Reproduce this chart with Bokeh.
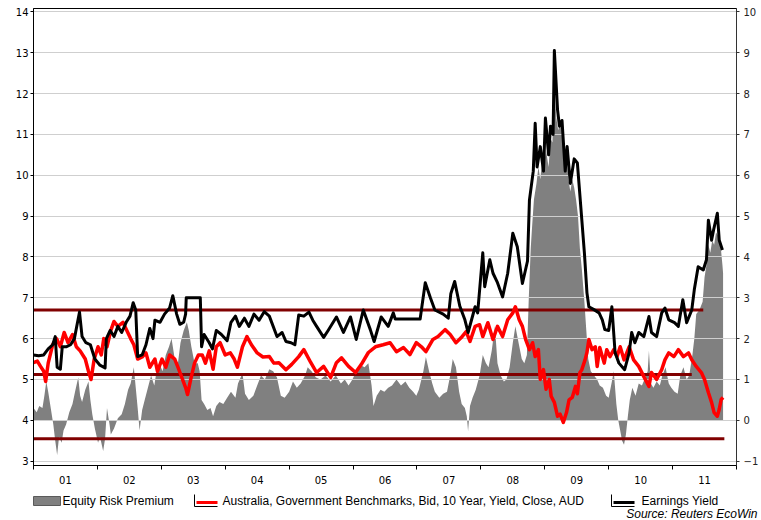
from bokeh.plotting import figure
from bokeh.models import Range1d, LinearAxis, FixedTicker
from bokeh.embed import file_html
from bokeh.resources import INLINE
from bokeh.core.properties import value

# ---- data (decimal year, value) ----
earnings_yield = [
    (2001.00, 5.60), (2001.08, 5.58), (2001.16, 5.60), (2001.23, 5.75), (2001.30, 5.85),
    (2001.34, 6.05), (2001.37, 5.30), (2001.42, 5.25), (2001.45, 5.80), (2001.51, 5.80),
    (2001.58, 5.85), (2001.64, 6.00), (2001.72, 6.65), (2001.76, 6.05), (2001.82, 5.90),
    (2001.89, 5.85), (2001.96, 5.50), (2002.04, 5.35), (2002.12, 5.28), (2002.14, 6.00),
    (2002.20, 6.20), (2002.26, 6.05), (2002.32, 6.30), (2002.38, 6.15), (2002.45, 6.40),
    (2002.51, 6.55), (2002.56, 6.88), (2002.60, 6.70), (2002.63, 5.56), (2002.70, 5.60),
    (2002.76, 5.85), (2002.82, 6.25), (2002.87, 6.00), (2002.90, 6.45), (2002.98, 6.40),
    (2003.05, 6.60), (2003.13, 6.75), (2003.18, 7.05), (2003.24, 6.60), (2003.29, 6.35),
    (2003.35, 6.40), (2003.38, 6.60), (2003.39, 7.00), (2003.61, 7.00), (2003.63, 5.80),
    (2003.67, 6.10), (2003.75, 5.90), (2003.80, 5.75), (2003.86, 6.20), (2003.94, 6.10),
    (2004.03, 5.95), (2004.09, 6.40), (2004.16, 6.55), (2004.22, 6.30), (2004.30, 6.50),
    (2004.37, 6.30), (2004.45, 6.60), (2004.53, 6.45), (2004.61, 6.66), (2004.69, 6.55),
    (2004.81, 6.05), (2004.89, 6.15), (2004.95, 5.93), (2005.03, 5.90), (2005.09, 5.85),
    (2005.15, 6.58), (2005.23, 6.55), (2005.31, 6.65), (2005.37, 6.45), (2005.43, 6.30),
    (2005.54, 6.03), (2005.61, 6.20), (2005.67, 6.35), (2005.74, 6.53), (2005.85, 6.15),
    (2005.96, 6.53), (2006.05, 5.98), (2006.16, 6.70), (2006.27, 6.22), (2006.33, 5.93),
    (2006.44, 6.53), (2006.55, 6.30), (2006.63, 6.63), (2006.66, 6.48), (2007.05, 6.48),
    (2007.13, 7.37), (2007.21, 7.00), (2007.28, 6.70), (2007.41, 6.60), (2007.49, 6.50),
    (2007.53, 7.10), (2007.59, 7.40), (2007.67, 6.80), (2007.75, 6.46), (2007.80, 6.15),
    (2007.91, 6.78), (2007.95, 6.63), (2008.03, 8.10), (2008.06, 7.27), (2008.14, 7.93),
    (2008.19, 7.60), (2008.26, 7.37), (2008.34, 7.02), (2008.42, 7.60), (2008.50, 8.58),
    (2008.57, 8.25), (2008.65, 7.35), (2008.73, 7.90), (2008.76, 9.39), (2008.82, 10.10),
    (2008.85, 11.27), (2008.88, 10.20), (2008.93, 10.70), (2008.98, 10.10), (2009.01, 11.40),
    (2009.06, 10.50), (2009.09, 11.20), (2009.13, 11.00), (2009.15, 13.05), (2009.20, 11.60),
    (2009.23, 11.20), (2009.27, 11.34), (2009.32, 10.10), (2009.35, 10.70), (2009.40, 9.80),
    (2009.46, 10.40), (2009.51, 10.30), (2009.58, 8.90), (2009.62, 8.10), (2009.66, 7.12),
    (2009.69, 6.78), (2009.77, 6.71), (2009.85, 6.63), (2009.90, 6.46), (2009.94, 6.22),
    (2010.00, 6.20), (2010.05, 6.78), (2010.10, 5.66), (2010.16, 5.40), (2010.25, 5.24),
    (2010.32, 5.65), (2010.36, 6.15), (2010.41, 5.90), (2010.47, 6.15), (2010.55, 6.05),
    (2010.63, 6.54), (2010.67, 6.15), (2010.75, 6.05), (2010.83, 6.63), (2010.88, 6.75),
    (2010.94, 6.46), (2011.03, 6.39), (2011.09, 6.30), (2011.16, 6.95), (2011.22, 6.39),
    (2011.30, 6.70), (2011.34, 7.20), (2011.40, 7.76), (2011.48, 7.68), (2011.53, 7.93),
    (2011.56, 8.90), (2011.61, 8.41), (2011.64, 8.65), (2011.70, 9.07), (2011.73, 8.41),
    (2011.78, 8.17),
]

bond_yield = [
    (2001.00, 5.41), (2001.06, 5.45), (2001.11, 5.32), (2001.16, 5.20), (2001.19, 4.95),
    (2001.23, 5.40), (2001.30, 5.85), (2001.36, 6.00), (2001.42, 5.80), (2001.48, 6.15),
    (2001.54, 5.90), (2001.61, 6.10), (2001.67, 5.80), (2001.73, 5.70), (2001.81, 5.50),
    (2001.86, 5.20), (2001.90, 5.00), (2001.95, 5.50), (2002.01, 5.80), (2002.06, 5.60),
    (2002.10, 6.00), (2002.15, 5.80), (2002.21, 6.20), (2002.26, 6.42), (2002.32, 6.30),
    (2002.40, 6.40), (2002.46, 6.20), (2002.52, 6.00), (2002.57, 5.85), (2002.63, 5.50),
    (2002.70, 5.55), (2002.76, 5.65), (2002.82, 5.30), (2002.90, 5.50), (2002.94, 5.20),
    (2003.01, 5.50), (2003.07, 5.30), (2003.13, 5.60), (2003.21, 5.50), (2003.26, 5.30),
    (2003.32, 5.05), (2003.38, 4.80), (2003.41, 4.63), (2003.46, 5.00), (2003.52, 5.40),
    (2003.58, 5.60), (2003.64, 5.60), (2003.69, 5.40), (2003.75, 5.70), (2003.81, 5.25),
    (2003.86, 5.80), (2003.92, 5.90), (2004.00, 5.60), (2004.08, 5.65), (2004.14, 5.50),
    (2004.19, 5.30), (2004.27, 5.80), (2004.34, 6.05), (2004.41, 5.85), (2004.50, 5.65),
    (2004.59, 5.55), (2004.69, 5.56), (2004.76, 5.40), (2004.84, 5.41), (2004.95, 5.24),
    (2005.04, 5.37), (2005.15, 5.56), (2005.23, 5.73), (2005.34, 5.41), (2005.43, 5.17),
    (2005.54, 5.32), (2005.65, 5.05), (2005.74, 5.41), (2005.82, 5.53), (2005.93, 5.32),
    (2006.04, 5.17), (2006.13, 5.37), (2006.24, 5.66), (2006.35, 5.80), (2006.47, 5.85),
    (2006.58, 5.90), (2006.68, 5.68), (2006.79, 5.78), (2006.89, 5.61), (2006.99, 5.90),
    (2007.07, 5.80), (2007.14, 5.68), (2007.25, 5.98), (2007.33, 6.05), (2007.44, 6.22),
    (2007.52, 6.10), (2007.61, 5.90), (2007.69, 6.02), (2007.77, 6.17), (2007.83, 5.93),
    (2007.91, 6.30), (2007.98, 6.34), (2008.03, 6.05), (2008.11, 6.39), (2008.19, 5.98),
    (2008.26, 6.30), (2008.34, 6.05), (2008.42, 6.46), (2008.50, 6.63), (2008.54, 6.78),
    (2008.60, 6.46), (2008.65, 6.30), (2008.70, 5.98), (2008.76, 5.73), (2008.81, 5.90),
    (2008.85, 5.56), (2008.90, 5.73), (2008.93, 5.00), (2008.98, 5.24), (2009.02, 4.76),
    (2009.07, 5.00), (2009.10, 4.59), (2009.15, 4.44), (2009.20, 4.10), (2009.24, 4.15),
    (2009.29, 3.95), (2009.34, 4.19), (2009.38, 4.50), (2009.43, 4.56), (2009.48, 4.83),
    (2009.51, 4.65), (2009.55, 5.17), (2009.58, 5.24), (2009.63, 5.48), (2009.66, 5.66),
    (2009.69, 5.98), (2009.74, 5.73), (2009.79, 5.80), (2009.82, 5.32), (2009.86, 5.78),
    (2009.93, 5.40), (2009.97, 5.73), (2010.02, 5.56), (2010.08, 5.73), (2010.13, 5.56),
    (2010.18, 5.80), (2010.24, 5.48), (2010.32, 5.80), (2010.39, 5.48), (2010.47, 5.32),
    (2010.55, 5.07), (2010.63, 4.83), (2010.67, 5.17), (2010.75, 5.00), (2010.83, 5.24),
    (2010.88, 5.48), (2010.94, 5.65), (2011.02, 5.56), (2011.09, 5.73), (2011.17, 5.56),
    (2011.25, 5.65), (2011.30, 5.48), (2011.37, 5.32), (2011.45, 5.17), (2011.50, 5.00),
    (2011.56, 4.68), (2011.61, 4.44), (2011.65, 4.19), (2011.70, 4.10), (2011.73, 4.27),
    (2011.76, 4.51), (2011.79, 4.56),
]

equity_risk_premium = [
    (2001.00, 0.30), (2001.05, 0.20), (2001.09, 0.35), (2001.14, 0.30), (2001.17, 0.60),
    (2001.20, 0.95), (2001.23, 0.70), (2001.26, 0.40), (2001.31, -0.10), (2001.34, -0.50),
    (2001.37, -0.85), (2001.40, -0.40), (2001.44, -0.55), (2001.47, -0.25), (2001.51, -0.10),
    (2001.56, 0.20), (2001.61, 0.40), (2001.65, 0.70), (2001.70, 1.05), (2001.73, 0.60),
    (2001.76, 0.45), (2001.81, 0.75), (2001.86, 0.95), (2001.89, 0.50), (2001.92, 0.15),
    (2001.96, -0.20), (2002.01, -0.55), (2002.04, -0.40), (2002.09, -0.75), (2002.12, -0.45),
    (2002.15, 0.30), (2002.19, -0.10), (2002.21, -0.35), (2002.26, -0.20), (2002.32, 0.05),
    (2002.38, 0.15), (2002.43, 0.40), (2002.48, 0.75), (2002.52, 0.90), (2002.57, 1.30),
    (2002.60, 0.80), (2002.63, 0.30), (2002.66, -0.25), (2002.70, 0.25), (2002.74, 0.50),
    (2002.79, 0.80), (2002.84, 1.10), (2002.89, 0.85), (2002.93, 1.25), (2002.98, 1.35),
    (2003.02, 1.20), (2003.07, 1.60), (2003.12, 1.80), (2003.16, 2.00), (2003.21, 1.50),
    (2003.26, 1.40), (2003.30, 1.90), (2003.35, 2.20), (2003.40, 2.40), (2003.43, 2.20),
    (2003.47, 1.80), (2003.52, 1.40), (2003.57, 1.40), (2003.60, 1.20), (2003.63, 0.50),
    (2003.67, 0.40), (2003.72, 0.25), (2003.77, 0.30), (2003.81, 0.10), (2003.86, 0.35),
    (2003.91, 0.45), (2003.97, 0.40), (2004.03, 0.55), (2004.09, 0.70), (2004.16, 0.55),
    (2004.20, 0.90), (2004.27, 1.15), (2004.31, 0.65), (2004.37, 0.50), (2004.44, 0.60),
    (2004.50, 0.85), (2004.56, 1.10), (2004.62, 1.00), (2004.69, 1.25), (2004.75, 1.20),
    (2004.81, 1.05), (2004.87, 0.60), (2004.93, 0.55), (2005.00, 0.70), (2005.06, 0.95),
    (2005.12, 0.80), (2005.18, 0.90), (2005.25, 1.10), (2005.29, 1.30), (2005.35, 1.20),
    (2005.42, 1.05), (2005.49, 1.00), (2005.57, 1.10), (2005.65, 0.95), (2005.73, 1.10),
    (2005.81, 0.90), (2005.87, 1.00), (2005.93, 0.85), (2005.99, 1.00), (2006.05, 1.20),
    (2006.12, 1.35), (2006.18, 1.30), (2006.24, 1.40), (2006.29, 0.85), (2006.32, 0.35),
    (2006.37, 0.60), (2006.43, 0.75), (2006.49, 0.70), (2006.55, 0.80), (2006.61, 0.85),
    (2006.68, 1.00), (2006.75, 0.85), (2006.82, 0.95), (2006.88, 0.80), (2006.94, 0.70),
    (2006.99, 0.60), (2007.03, 0.75), (2007.10, 1.20), (2007.14, 1.55), (2007.19, 1.20),
    (2007.24, 0.90), (2007.28, 0.70), (2007.35, 0.55), (2007.41, 0.65), (2007.47, 0.70),
    (2007.52, 1.10), (2007.56, 1.50), (2007.61, 1.30), (2007.66, 0.70), (2007.70, 0.40),
    (2007.75, 0.30), (2007.78, 0.10), (2007.80, -0.27), (2007.83, 0.35), (2007.87, 0.55),
    (2007.92, 0.75), (2007.98, 1.10), (2008.03, 1.60), (2008.08, 1.40), (2008.12, 1.30),
    (2008.17, 1.70), (2008.22, 2.30), (2008.26, 1.40), (2008.31, 1.10), (2008.36, 0.95),
    (2008.40, 1.00), (2008.45, 1.30), (2008.50, 1.90), (2008.54, 2.30), (2008.59, 1.90),
    (2008.64, 1.50), (2008.68, 1.40), (2008.72, 1.60), (2008.75, 3.00), (2008.78, 4.20),
    (2008.80, 4.70), (2008.83, 5.40), (2008.87, 5.80), (2008.90, 6.20), (2008.93, 5.90),
    (2008.96, 6.40), (2008.99, 6.30), (2009.02, 6.60), (2009.06, 6.20), (2009.09, 6.90),
    (2009.12, 6.80), (2009.15, 8.30), (2009.18, 7.40), (2009.21, 7.10), (2009.24, 7.30),
    (2009.27, 7.20), (2009.30, 6.30), (2009.34, 6.50), (2009.37, 5.90), (2009.40, 5.60),
    (2009.43, 5.90), (2009.46, 5.70), (2009.49, 5.40), (2009.52, 5.00), (2009.55, 4.20),
    (2009.58, 3.70), (2009.62, 2.90), (2009.65, 2.20), (2009.68, 1.50), (2009.72, 1.20),
    (2009.77, 1.10), (2009.82, 1.00), (2009.86, 0.85), (2009.91, 0.80), (2009.96, 0.60),
    (2010.00, 0.55), (2010.05, 0.95), (2010.08, 1.20), (2010.12, 0.40), (2010.15, 0.00),
    (2010.18, -0.25), (2010.21, -0.50), (2010.24, -0.60), (2010.27, -0.35), (2010.30, 0.10),
    (2010.33, 0.50), (2010.37, 0.80), (2010.42, 0.60), (2010.47, 0.90), (2010.52, 0.85),
    (2010.56, 1.00), (2010.61, 1.20), (2010.63, 1.70), (2010.66, 0.90), (2010.70, 0.80),
    (2010.75, 0.95), (2010.80, 0.85), (2010.84, 1.10), (2010.89, 1.30), (2010.94, 0.90),
    (2010.98, 0.80), (2011.03, 0.70), (2011.08, 0.65), (2011.12, 1.10), (2011.17, 1.30),
    (2011.22, 1.00), (2011.26, 1.10), (2011.31, 1.60), (2011.34, 2.00), (2011.37, 2.60),
    (2011.42, 2.70), (2011.47, 2.90), (2011.50, 3.50), (2011.53, 3.80), (2011.56, 4.30),
    (2011.59, 4.10), (2011.62, 4.40), (2011.65, 4.30), (2011.68, 4.60), (2011.72, 4.50),
    (2011.75, 4.30), (2011.78, 3.80), (2011.79, 3.60),
]

# horizontal reference bands (left axis)
band_levels = [6.70, 5.12, 3.55]
band_starts = [2001.0, 2001.0, 2001.0]
band_ends = [2011.48, 2011.30, 2011.81]

year_bounds = list(range(2001, 2013))
year_mids = [y + 0.5 for y in range(2001, 2012)]
year_labels = ["01", "02", "03", "04", "05", "06", "07", "08", "09", "10", "11"]
left_ticks = list(range(3, 15))
right_ticks = list(range(-1, 11))

legend_labels = ["Equity Risk Premium",
                 "Australia, Government Benchmarks, Bid, 10 Year, Yield, Close, AUD",
                 "Earnings Yield"]
source_text = "Source: Reuters EcoWin"

ey_t = [a for a, b in earnings_yield]
ey_v = [b for a, b in earnings_yield]
by_t = [a for a, b in bond_yield]
by_v = [b for a, b in bond_yield]
erp_t = [a for a, b in equity_risk_premium]
erp_v = [b for a, b in equity_risk_premium]

TICK_FONT = "DejaVu Sans"
TEXT_FONT = "Liberation Sans"

Y_LO, Y_HI = 2.894, 14.081

p = figure(width=761, height=488,
           x_range=Range1d(2001.0, 2012.0),
           y_range=Range1d(Y_LO, Y_HI),
           output_backend="svg", toolbar_location=None,
           min_border_left=33, min_border_right=21,
           min_border_top=8, min_border_bottom=23)
p.extra_y_ranges = {"erp": Range1d(Y_LO - 4.0, Y_HI - 4.0)}
p.outline_line_color = "black"
p.outline_line_width = 1
p.background_fill_color = "white"
p.border_fill_color = "white"

# x axis
xa = p.xaxis[0]
xa.ticker = FixedTicker(ticks=year_mids, minor_ticks=year_bounds)
xa.major_label_overrides = {m: l for m, l in zip(year_mids, year_labels)}
xa.major_tick_out = 0
xa.major_tick_in = 0
xa.minor_tick_out = 4
xa.minor_tick_in = 0
xa.minor_tick_line_color = "black"
xa.axis_line_color = "black"
xa.major_label_standoff = 6
xa.major_label_text_font = TICK_FONT
xa.major_label_text_font_size = "10px"
xa.major_label_text_color = "black"

# left axis
ya = p.yaxis[0]
ya.ticker = FixedTicker(ticks=left_ticks)
ya.major_tick_out = 3
ya.major_tick_in = 0
ya.minor_tick_out = 0
ya.minor_tick_in = 0
ya.axis_line_color = "black"
ya.major_tick_line_color = "black"
ya.major_label_standoff = 2
ya.major_label_text_font = TICK_FONT
ya.major_label_text_font_size = "10px"
ya.major_label_text_color = "black"

# right axis
ra = LinearAxis(y_range_name="erp", ticker=FixedTicker(ticks=right_ticks))
ra.major_tick_out = 3
ra.major_tick_in = 0
ra.minor_tick_out = 0
ra.minor_tick_in = 0
ra.axis_line_color = "#333333"
ra.major_tick_line_color = "#333333"
ra.major_label_standoff = 4
ra.major_label_text_font = TICK_FONT
ra.major_label_text_font_size = "10px"
ra.major_label_text_color = "#222222"
p.add_layout(ra, "right")

p.xgrid.visible = False
p.ygrid.ticker = FixedTicker(ticks=left_ticks)
p.ygrid.grid_line_color = "#cfcfcf"
p.ygrid.grid_line_width = 1

# equity risk premium area (right axis)
area = p.varea(x=erp_t, y1=0, y2=erp_v, fill_color="#808080", fill_alpha=1.0,
               y_range_name="erp")
area.level = "image"

# reference bands
p.segment(x0=band_starts, x1=band_ends, y0=band_levels, y1=band_levels,
          line_color="#800000", line_width=3)

# bond yield (red) and earnings yield (black)
p.line(by_t, by_v, line_color="#ff0000", line_width=3.5, line_join="round")
p.line(ey_t, ey_v, line_color="#000000", line_width=3, line_join="round")

# ---- legend strip (separate root, directly below) ----
lg = figure(width=761, height=32, x_range=Range1d(0, 761), y_range=Range1d(520, 488),
            output_backend="svg", toolbar_location=None, min_border=0,
            x_axis_type=None, y_axis_type=None)
lg.outline_line_color = None
lg.grid.visible = False

lg.quad(left=[33], right=[60], top=[496], bottom=[505],
        fill_color="#808080", line_color="#5a5a5a", line_width=1)
marker_x = [194, 611]
marker_colors = ["#ff0000", "#000000"]
lg.segment(x0=marker_x, x1=marker_x, y0=[494, 494], y1=[506, 506],
           line_color="black", line_width=1)
lg.segment(x0=marker_x, x1=[m + 23 for m in marker_x], y0=[506, 506], y1=[506, 506],
           line_color="black", line_width=1)
lg.segment(x0=[m + 2 for m in marker_x], x1=[m + 23 for m in marker_x],
           y0=[502, 502], y1=[502, 502], line_color=marker_colors, line_width=3)

lg.text(x=[62, 222, 641], y=[500, 500, 500], text=legend_labels,
        text_font=value(TEXT_FONT), text_font_size="12px", text_color="black",
        text_align="left", text_baseline="middle")
lg.text(x=[757], y=[513], text=[source_text],
        text_font=value(TEXT_FONT), text_font_size="12px", text_font_style="italic",
        text_color="black", text_align="right", text_baseline="middle")

open("out.html", "w").write(file_html([p, lg], INLINE))
